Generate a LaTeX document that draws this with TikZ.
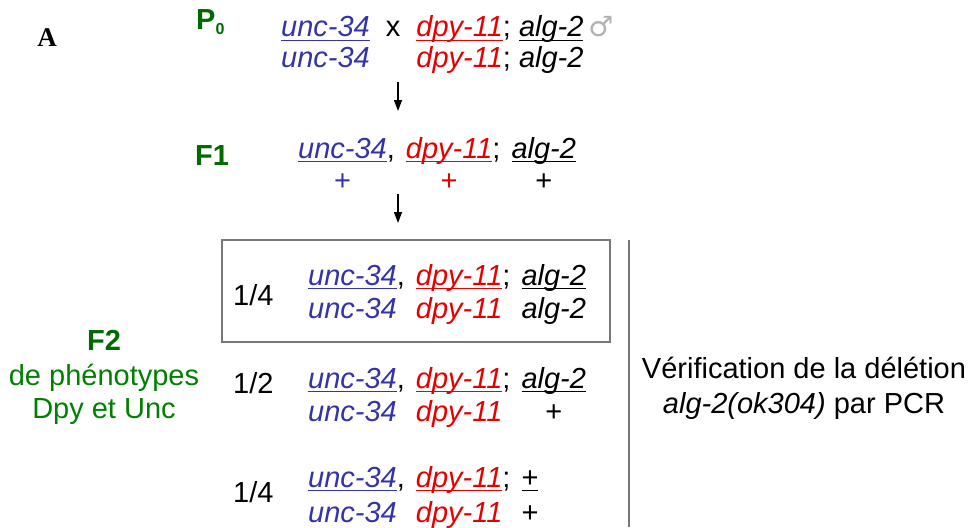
\documentclass[tikz,border=0pt]{standalone}
\usepackage{fontspec}
\setmainfont{Liberation Sans}
\newfontfamily\panelfont{Liberation Serif}
\newfontfamily\symfont{DejaVu Sans}
\usetikzlibrary{arrows.meta}

\definecolor{uncblue}{RGB}{51,51,170}
\definecolor{dpyred}{RGB}{230,0,0}
\definecolor{gengreen}{RGB}{0,105,0}
\definecolor{txtgreen}{RGB}{0,128,0}
\definecolor{rulegray}{RGB}{120,120,120}

% alleles, the underline takes the colour of the allele
\newsavebox\genebox
\newcommand{\ulgene}[1]{\sbox\genebox{#1}\rlap{\rule[-4pt]{\wd\genebox}{1.2pt}}\usebox\genebox}
\newcommand{\unc}{\textcolor{uncblue}{\itshape unc-34}}
\newcommand{\dpy}{\textcolor{dpyred}{\itshape dpy-11}}
\newcommand{\algtwo}{\textit{alg-2}}
\newcommand{\uunc}{\textcolor{uncblue}{\ulgene{\itshape unc-34}}}
\newcommand{\udpy}{\textcolor{dpyred}{\ulgene{\itshape dpy-11}}}
\newcommand{\ualg}{\ulgene{\itshape alg-2}}

\tikzset{
  geno/.style={anchor=base west, inner sep=0pt},
  gen/.style={anchor=base west, inner sep=0pt, text=gengreen, font=\fontsize{29}{33}\selectfont\bfseries},
  ratio/.style={anchor=base west, inner sep=0pt},
  arr/.style={line width=1.3pt, -{Triangle[length=11pt,width=8pt]}},
}

\begin{document}
\begin{tikzpicture}[x=1pt,y=-1pt,font=\fontsize{29}{33}\selectfont]
\useasboundingbox (0,0) rectangle (973,527);

\node[anchor=base, inner sep=0pt, font=\fontsize{27}{30}\panelfont\bfseries] (panel) at (47,46) {A};

% generations
\node[gen] (p0) at (196,30) {P\raisebox{-5pt}{\fontsize{16}{16}\selectfont 0}};
\node[gen] (f1) at (195,165) {F1};

% parents
\node[geno] (p0geno) at (281,37) {\begin{tabular}[t]{@{}l@{\hspace{16pt}}c@{\hspace{16pt}}l@{}}
  \uunc & x & \udpy; \ualg\hspace{5pt}{\symfont\textcolor{black!30}{\fontsize{28}{28}\selectfont ♂}}\\[-2pt]
  \unc & & \dpy; \algtwo
\end{tabular}};

% F1 heterozygote
\node[geno] (f1geno) at (298,158) {\begin{tabular}[t]{@{}c@{}l@{\hspace{11pt}}c@{}l@{\hspace{11pt}}c@{}}
  \uunc & , & \udpy & ; & \ualg\\[-1pt]
  \textcolor{uncblue}{+} & & \textcolor{dpyred}{+} & & +
\end{tabular}};

\coordinate (a1s) at (398,82);
\coordinate (a1e) at (398,111);
\coordinate (a2s) at (398,194);
\coordinate (a2e) at (398,223);
\draw[arr] (a1s) -- (a1e);
\draw[arr] (a2s) -- (a2e);

% F2 classes
\node[ratio] (r1) at (233,305) {1/4};
\node[geno] (g1) at (308,285) {\begin{tabular}[t]{@{}l@{}l@{\hspace{11pt}}l@{}l@{\hspace{11pt}}c@{}}
  \uunc & , & \udpy & ; & \ualg\\
  \unc & & \dpy & & \algtwo
\end{tabular}};

\node[ratio] (r2) at (233,393) {1/2};
\node[geno] (g2) at (308,388) {\begin{tabular}[t]{@{}l@{}l@{\hspace{11pt}}l@{}l@{\hspace{11pt}}c@{}}
  \uunc & , & \udpy & ; & \ualg\\
  \unc & & \dpy & & +
\end{tabular}};

\node[ratio] (r3) at (233,502) {1/4};
\node[geno] (g3) at (308,487) {\begin{tabular}[t]{@{}l@{}l@{\hspace{11pt}}l@{}l@{\hspace{11pt}}c@{}}
  \uunc & , & \udpy & ; & \ulgene{+}\\[2pt]
  \unc & & \dpy & & +
\end{tabular}};

\draw[rulegray, line width=1.2pt] (222,240) rectangle (610,342);
\draw[rulegray, line width=1.5pt] (629,240) -- (629,527);

\node[anchor=base, inner sep=0pt, text=gengreen, font=\fontsize{29}{33}\selectfont\bfseries] (f2) at (104,350) {F2};
\node[anchor=base, inner sep=0pt, text=txtgreen] (f2a) at (104,385) {de phénotypes};
\node[anchor=base, inner sep=0pt, text=txtgreen] (f2b) at (104,418) {Dpy et Unc};

\node[anchor=base, inner sep=0pt] (pcr) at (804,378) {Vérification de la délétion};
\node[anchor=base, inner sep=0pt] (pcrb) at (804,413) {\textit{alg-2(ok304)} par PCR};
\end{tikzpicture}
\end{document}
